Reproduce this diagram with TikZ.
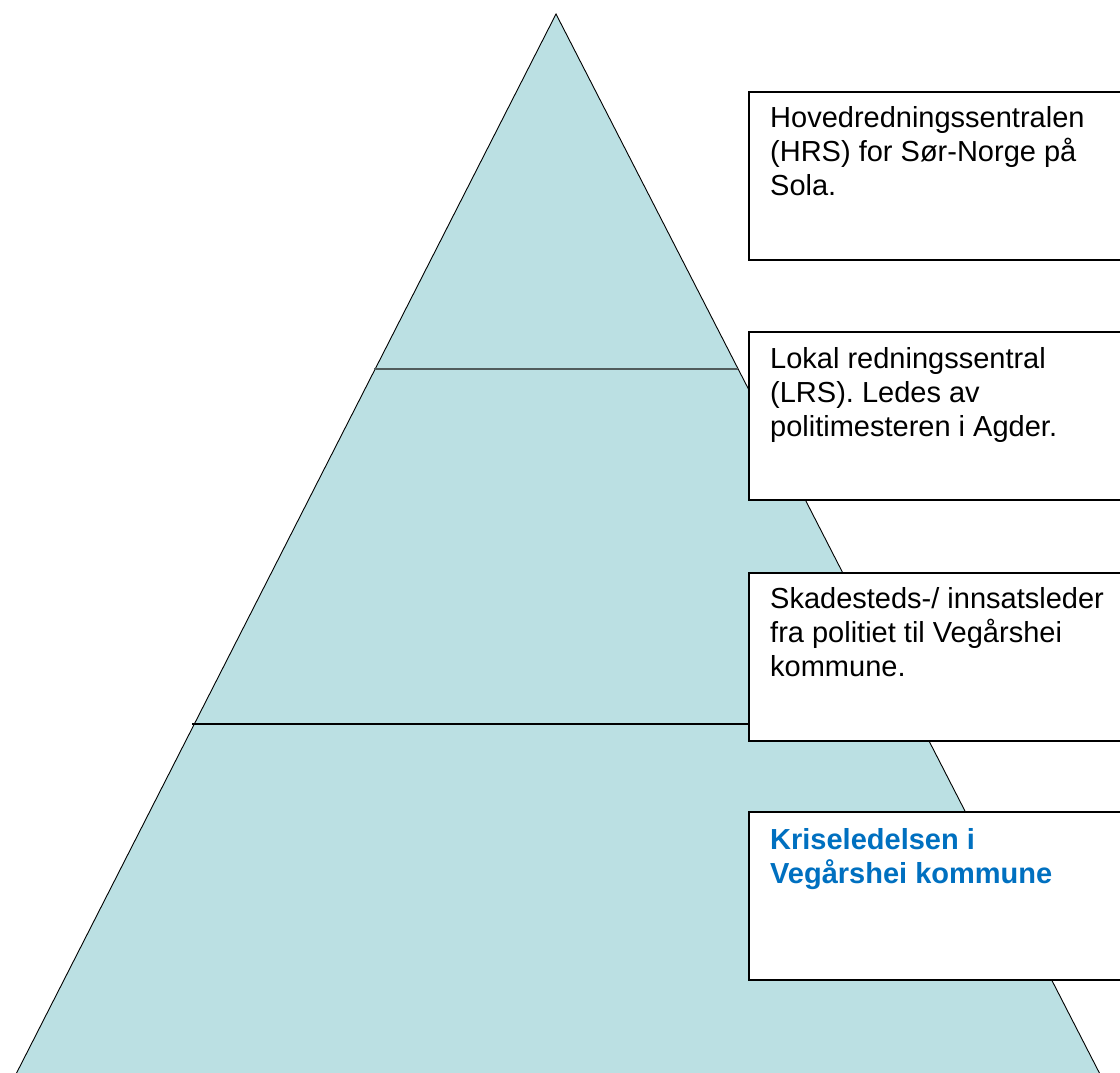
\documentclass[tikz,border=0pt]{standalone}
\usepackage{fontspec}
\setmainfont{Liberation Sans}
\definecolor{pyrfill}{RGB}{187,224,227}
\definecolor{divgray}{RGB}{80,92,92}
\definecolor{kblue}{RGB}{0,112,192}
\begin{document}
\begin{tikzpicture}[x=1pt,y=-1pt,
  infobox/.style={draw=black, line width=1.8pt, fill=white, rectangle, inner sep=0pt,
    minimum width=382pt, minimum height=168pt, anchor=north west},
  infotext/.style={anchor=base west, inner sep=0pt, align=left,
    font=\fontsize{29pt}{34pt}\selectfont},
  boldtext/.style={infotext, text=kblue, font=\fontsize{29pt}{34pt}\selectfont\bfseries}]
\useasboundingbox (0,0) rectangle (1120,1072);
\clip (0,0) rectangle (1120,1072);
% pyramid
\coordinate (apex) at (556,14);
\coordinate (bl) at (13,1080);
\coordinate (br) at (1103,1080);
\fill[pyrfill] (apex) -- (bl) -- (br) -- cycle;
\draw[black, line width=0.9pt] (bl) -- (apex) -- (br);
% dividers
\coordinate (d1l) at (374,369);
\coordinate (d1r) at (738,369);
\coordinate (d2l) at (192,724);
\coordinate (d2r) at (920,724);
\draw[divgray, line width=1.8pt] (d1l) -- (d1r);
\draw[black, line width=1.3pt] (d2l) -- (d2r);
% boxes
\node[infobox] (b1) at (748,91) {};
\node[infobox] (b2) at (748,331) {};
\node[infobox] (b3) at (748,572) {};
\node[infobox] (b4) at (748,811) {};
% texts (base anchor = baseline of last line)
\node[infotext] (t1) at ([xshift=22pt,yshift=-104pt]b1.north west)
  {Hovedredningssentralen\\(HRS) for Sør-Norge på\\Sola.};
\node[infotext] (t2) at ([xshift=22pt,yshift=-105pt]b2.north west)
  {Lokal redningssentral\\(LRS). Ledes av\\politimesteren i Agder.};
\node[infotext] (t3) at ([xshift=22pt,yshift=-104pt]b3.north west)
  {Skadesteds-/ innsatsleder\\fra politiet til Vegårshei\\kommune.};
\node[boldtext] (t4) at ([xshift=22pt,yshift=-72pt]b4.north west)
  {Kriseledelsen i\\Vegårshei kommune};
\end{tikzpicture}
\end{document}
